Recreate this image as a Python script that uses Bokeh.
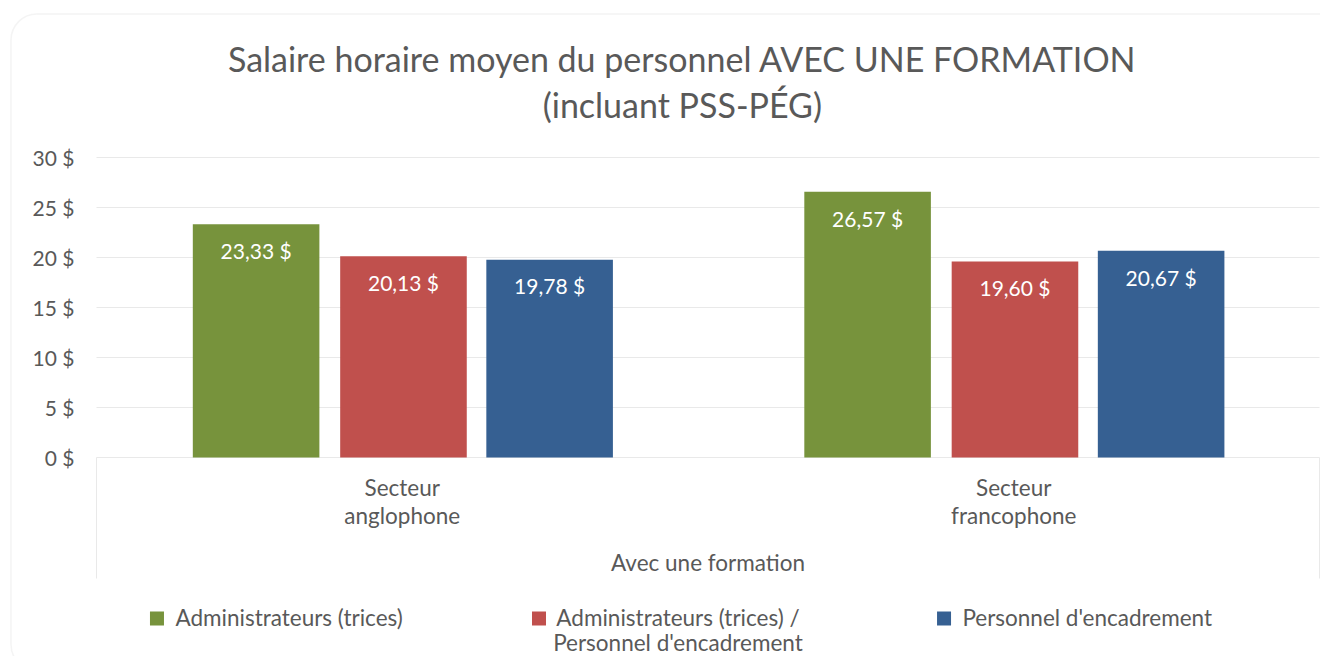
import numpy as np
from bokeh.plotting import figure
from bokeh.models import ColumnDataSource, Range1d, BoxAnnotation
from bokeh.transform import dodge
from bokeh.core.properties import value
from bokeh.embed import file_html
from bokeh.resources import INLINE

# ---------------- data ----------------
title_lines = ["Salaire horaire moyen du personnel AVEC UNE FORMATION", "(incluant PSS-PÉG)"]
categories = ["Secteur anglophone", "Secteur francophone"]
group_label = "Avec une formation"
series_names = ["Administrateurs (trices)",
                "Administrateurs (trices) / Personnel d'encadrement",
                "Personnel d'encadrement"]
admin = [23.33, 26.57]
admin_pers = [20.13, 19.60]
pers = [19.78, 20.67]
y_ticks = [0, 5, 10, 15, 20, 25, 30]
y_tick_labels = ["0 $", "5 $", "10 $", "15 $", "20 $", "25 $", "30 $"]

# ---------------- style / layout ----------------
colors = ["#77933C", "#C0504D", "#366092"]
offsets = [-0.239, 0.002, 0.241]
bar_w = 0.207
FONT = value("Lato")
TXT = "#595959"
GRID = "#e9e9e9"

W, H = 1320, 656
p = figure(width=W, height=H, output_backend="svg", toolbar_location=None,
           x_range=Range1d(-0.15699, 2.00164), y_range=Range1d(-19.9, 45.7),
           x_axis_location=None, y_axis_location=None, min_border=0)
p.grid.visible = False
p.outline_line_color = None
p.background_fill_color = "white"
p.border_fill_color = "white"

# outer rounded frame
p.add_layout(BoxAnnotation(left=-0.1398, right=2.06, top=44.35, bottom=-21.3,
                           fill_color=None, line_color="#d9d9d9", line_width=1.5,
                           border_radius=26))

# gridlines
n = len(categories)
p.segment(x0=[0] * len(y_ticks), x1=[n] * len(y_ticks), y0=y_ticks, y1=y_ticks,
          line_color=GRID, line_width=1)
# category axis box sides
p.segment(x0=[0, n], x1=[0, n], y0=[0, 0], y1=[-12.1, -12.1], line_color=GRID, line_width=1)

MID = dict(text_baseline="middle", text_font=FONT, text_color=TXT)

# y tick labels
p.text(x=[-0.036] * len(y_ticks), y=y_ticks, text=y_tick_labels, text_align="right",
       text_font_size="21px", **MID)

# bars
xc = np.arange(n) + 0.5
src = ColumnDataSource(dict(x=xc, s0=admin, s1=admin_pers, s2=pers,
                            l0=[f"{v:.2f}".replace(".", ",") + " $" for v in admin],
                            l1=[f"{v:.2f}".replace(".", ",") + " $" for v in admin_pers],
                            l2=[f"{v:.2f}".replace(".", ",") + " $" for v in pers]))
for i in range(3):
    p.vbar(x=dodge("x", offsets[i]), top=f"s{i}", bottom=0, width=bar_w, source=src,
           fill_color=colors[i], line_color=None)
    p.text(x=dodge("x", offsets[i]), y=dodge(f"s{i}", -2.62), text=f"l{i}", source=src,
           text_align="center", text_baseline="middle", text_font=FONT,
           text_font_size="21px", text_color="white")

# category labels (two lines)
LBL = "22.5px"
first = [c.split(" ", 1)[0] for c in categories]
second = [c.split(" ", 1)[1] for c in categories]
p.text(x=xc, y=[-3.0] * n, text=first, text_align="center", text_font_size=LBL, **MID)
p.text(x=xc, y=[-5.8] * n, text=second, text_align="center", text_font_size=LBL, **MID)
p.text(x=[n / 2], y=[-10.45], text=[group_label], text_align="center",
       text_font_size=LBL, **MID)

# title
p.text(x=[0.958], y=[39.92], text=[title_lines[0]], text_align="center",
       text_font_size="34px", **MID)
p.text(x=[0.958], y=[35.32], text=[title_lines[1]], text_align="center",
       text_font_size="34px", **MID)

# legend
sq_x = [0.0989, 0.7236, 1.386]
p.scatter(x=sq_x, y=[-16.1] * 3, marker="square", size=14, fill_color=colors, line_color=None)
p.text(x=[0.1292], y=[-16.0], text=[series_names[0]], text_align="left",
       text_font_size=LBL, **MID)
l1a, l1b = series_names[1].split(" / ")
p.text(x=[0.9509, 0.9509], y=[-16.0, -18.5], text=[l1a + " /", l1b], text_align="center",
       text_font_size=LBL, **MID)
p.text(x=[1.416], y=[-16.0], text=[series_names[2]], text_align="left",
       text_font_size=LBL, **MID)

open("out.html", "w").write(file_html(p, INLINE))
